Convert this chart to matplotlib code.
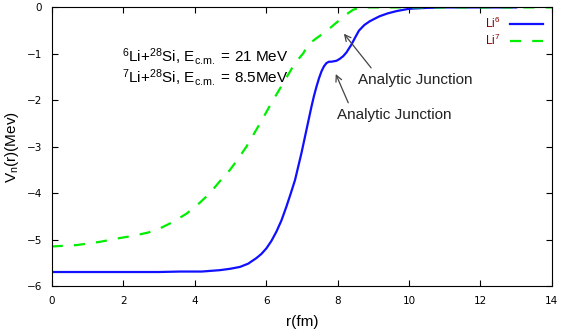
import matplotlib.pyplot as plt

plt.rcParams['font.family'] = ['Liberation Sans', 'DejaVu Sans']
plt.rcParams['mathtext.fontset'] = 'custom'
plt.rcParams['mathtext.rm'] = 'Liberation Sans'
plt.rcParams['mathtext.it'] = 'Liberation Sans:italic'

# Li6 potential
r6 = [0, 1, 2, 3, 3.6, 4.2, 4.71, 5.0, 5.27, 5.5, 5.73, 5.87, 6.01, 6.15,
      6.29, 6.43, 6.57, 6.69, 6.81, 6.90, 6.99, 7.06, 7.13, 7.20, 7.27, 7.34,
      7.41, 7.48, 7.55, 7.62, 7.69, 7.76, 7.83, 7.90, 7.97, 8.06, 8.16, 8.25,
      8.39, 8.5, 8.6, 8.75, 8.9, 9.05, 9.18, 9.4, 9.65, 10.0, 10.5, 11, 12, 13]
v6 = [-5.70, -5.70, -5.70, -5.70, -5.69, -5.69, -5.66, -5.63, -5.59, -5.52,
      -5.40, -5.31, -5.19, -5.03, -4.83, -4.59, -4.29, -4.01, -3.72, -3.43,
      -3.14, -2.89, -2.64, -2.39, -2.14, -1.91, -1.71, -1.53, -1.38, -1.27,
      -1.20, -1.17, -1.17, -1.16, -1.15, -1.11, -1.05, -0.97, -0.80, -0.64,
      -0.50, -0.38, -0.30, -0.24, -0.19, -0.13, -0.08, -0.03, -0.01, 0, 0, 0]

# Li7 potential
r7 = [0, 0.7, 1.35, 1.82, 2.28, 2.7, 3.03, 3.4, 3.78, 4.1, 4.43, 4.71, 4.99,
      5.22, 5.45, 5.83, 6.15, 6.48, 6.81, 7.04, 7.18, 7.4, 7.6, 7.83, 8.06,
      8.25, 8.44, 8.62, 8.81, 9, 10, 11, 12, 13, 14]
v7 = [-5.15, -5.12, -5.05, -4.98, -4.92, -4.85, -4.76, -4.62, -4.44, -4.24,
      -4.00, -3.74, -3.50, -3.26, -3.00, -2.50, -2.06, -1.63, -1.20, -0.99,
      -0.80, -0.67, -0.56, -0.42, -0.27, -0.15, -0.05, -0.01, 0, 0, 0, 0, 0,
      0, 0]

xticks = [0, 2, 4, 6, 8, 10, 12, 14]
yticks = [-6, -5, -4, -3, -2, -1, 0]

fig = plt.figure(figsize=(5.62, 3.36), dpi=100)
ax = fig.add_axes([0.092, 0.149, 0.890, 0.829])

ax.plot(r6, v6, color='#1010ff', lw=1.6, label='Li$^{6}$')
ax.plot(r7, v7, color='#00ee00', lw=1.6, dashes=(5, 5), label='Li$^{7}$')

ax.set_xlim(0, 14)
ax.set_ylim(-6, 0)
ax.set_xticks(xticks)
ax.set_yticks(yticks)
ax.tick_params(direction='in', length=4, top=True, right=True, labelsize=7.5,
               pad=7)
for lab in ax.get_xticklabels() + ax.get_yticklabels():
    lab.set_family('DejaVu Sans')

ax.set_xlabel('r(fm)', fontsize=11)
ax.xaxis.set_label_coords(0.5, -0.105)
ax.set_ylabel('V$_{\\rm n}$(r)(Mev)', fontsize=11)
ax.yaxis.set_label_coords(-0.062, 0.5)

ax.text(1.96, -1.05, '$^{6}$Li+$^{28}$Si, E$_{\\rm c.\\!m.}$ = 21 MeV',
        fontsize=11, va='center')
ax.text(1.96, -1.52, '$^{7}$Li+$^{28}$Si, E$_{\\rm c.\\!m.}$ = 8.5MeV',
        fontsize=11, va='center')

ax.annotate('Analytic Junction', xy=(8.13, -0.52), xytext=(8.57, -1.56),
            fontsize=11, va='center', color='#222222',
            arrowprops=dict(arrowstyle='->', color='#444444', lw=0.9,
                            relpos=(0.15, 1.0)))
ax.annotate('Analytic Junction', xy=(7.92, -1.38), xytext=(7.98, -2.32),
            fontsize=11, va='center', color='#222222',
            arrowprops=dict(arrowstyle='->', color='#444444', lw=0.9,
                            relpos=(0.12, 1.0)))

leg = ax.legend(loc='upper right', frameon=False, fontsize=8.5,
                markerfirst=False, handlelength=2.8, handletextpad=0.8,
                borderaxespad=0.35, labelspacing=0.15)
for t in leg.get_texts():
    t.set_color('#800000')

fig.savefig('out.png', dpi=100)
